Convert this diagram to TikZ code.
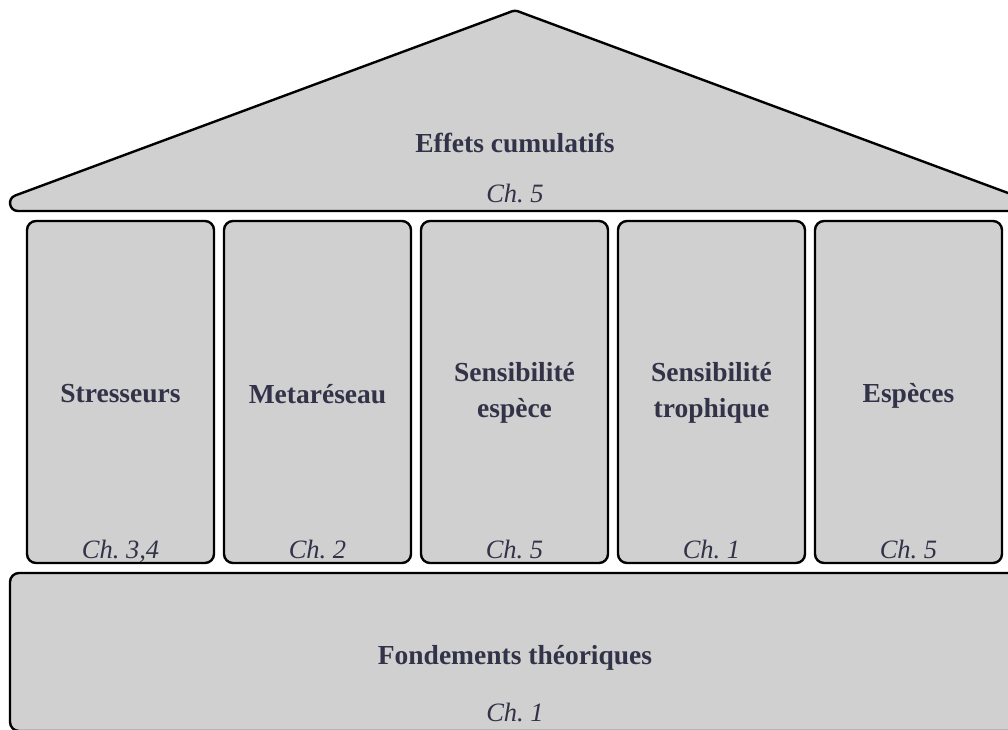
\documentclass[tikz,border=0pt]{standalone}
\usepackage{fontspec}
\setmainfont{Liberation Serif}
\usetikzlibrary{positioning}
\definecolor{blockgray}{RGB}{208,208,208}
\definecolor{labelink}{RGB}{50,50,72}
\tikzset{
  block/.style={draw=black,line width=2.4pt,fill=blockgray,rounded corners=9pt,inner sep=0pt},
  title/.style={font=\fontsize{27.5}{36}\selectfont\bfseries,text=labelink,align=center},
  chap/.style={font=\fontsize{26.5}{32}\selectfont\itshape,text=labelink,anchor=base}
}

\begin{document}
\begin{tikzpicture}[x=1pt,y=-1pt]
\useasboundingbox (0,0) rectangle (1008,729);
\clip (0,0) rectangle (1008,729);
% roof
\draw[line width=2.4pt,fill=blockgray,line join=round] (18,211) -- (1012,211)
  .. controls (1020.9,211) and (1023.1,198.6) .. (1014.8,195.5) -- (522.5,13)
  .. controls (515,10) .. (507.5,13) -- (15.2,195.5)
  .. controls (6.9,198.6) and (9.1,211) .. (18,211) -- cycle;
\node[title,anchor=base] (rooflab) at (515,152) {Effets cumulatifs};
\node[chap] (roofch) at (515,202) {Ch.\ 5};
% pillars
\foreach \i/\lab/\ch/\dy in {1/Stresseurs/{3,4}/-2,2/Metaréseau/2/-2,3/{Sensibilité\\espèce}/5/-1,4/{Sensibilité\\trophique}/1/-1,5/Espèces/5/-4}{
  \node[block,minimum width=187pt,minimum height=342pt] (p\i) at (120.5+197*\i-197,392) {};
  \node[title] (p\i lab) at ([yshift=\dy pt]p\i) {\lab};
  \node[chap] (p\i ch) at ([yshift=6pt]p\i.south) {Ch.\ \ch};
}
% base
\node[block,minimum width=1010pt,minimum height=158pt] (base) at (515,652) {};
\node[title,anchor=base] (baselab) at (515,664) {Fondements théoriques};
\node[chap] (basech) at (515,721) {Ch.\ 1};
\end{tikzpicture}
\end{document}
